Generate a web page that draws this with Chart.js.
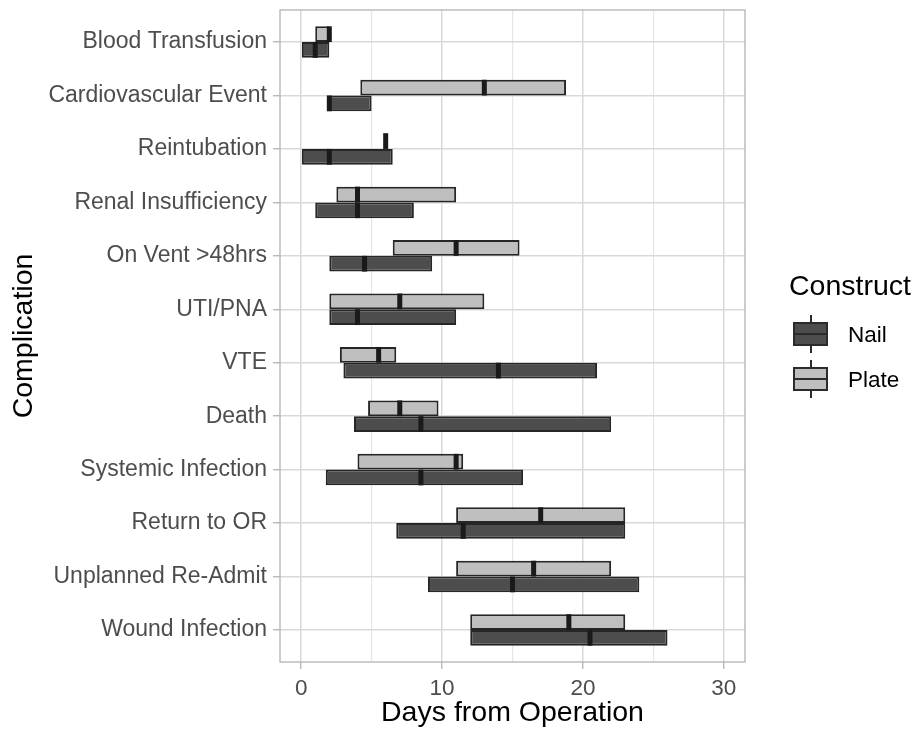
<!DOCTYPE html>
<html>
<head>
<meta charset="utf-8">
<script src="https://cdn.jsdelivr.net/npm/chart.js@4/dist/chart.umd.min.js"></script>
<style>
  body { margin: 0; background: #fff; }
  #wrap { position: relative; width: 911px; height: 732px; font-family: "Liberation Sans", Arial, sans-serif; }
  #chart { position: absolute; left: 0; top: 0; }
  .legend-title { position: absolute; left: 789px; top: 271px; font-size: 28.5px; line-height: 28px; color: #000; }
  .legend-label { position: absolute; left: 848px; font-size: 22.5px; line-height: 22px; color: #000; }
  .key { position: absolute; left: 793px; width: 35px; height: 38px; }
  .key .whisker { position: absolute; left: 16.5px; top: 0; width: 2px; height: 38px; background: #2b2b2b; }
  .key .box { position: absolute; left: 0; top: 6.5px; width: 35px; height: 24px; box-sizing: border-box; border: 2px solid #2b2b2b; }
  .key .mid { position: absolute; left: 0; top: 17.5px; width: 35px; height: 2px; background: #2b2b2b; }
</style>
</head>
<body>
<div id="wrap">
  <canvas id="chart" width="911" height="732"></canvas>
  <div class="legend-title">Construct</div>
  <div class="key" style="top:315px"><div class="whisker"></div><div class="box" style="background:#4d4d4d"></div><div class="mid"></div></div>
  <div class="legend-label" style="top:324px">Nail</div>
  <div class="key" style="top:360px"><div class="whisker"></div><div class="box" style="background:#bfbfbf"></div><div class="mid"></div></div>
  <div class="legend-label" style="top:369px">Plate</div>
</div>
<script>
const categories = [
  "Blood Transfusion", "Cardiovascular Event", "Reintubation", "Renal Insufficiency",
  "On Vent >48hrs", "UTI/PNA", "VTE", "Death", "Systemic Infection",
  "Return to OR", "Unplanned Re-Admit", "Wound Infection"
];

// days from operation: lower quartile, median, upper quartile
const nailLow = [0, 1.85, 0, 1, 2, 2, 3, 3.75, 1.75, 6.75, 9, 12];
const nailMedian = [1, 2, 2, 4, 4.5, 4, 14, 8.5, 8.5, 11.5, 15, 20.5];
const nailHigh = [2, 5, 6.5, 8, 9.3, 11, 21, 22, 15.75, 23, 24, 26];

const plateLow = [1, 4.2, 6, 2.5, 6.5, 2, 2.75, 4.75, 4, 11, 11, 12];
const plateMedian = [2, 13, 6, 4, 11, 7, 5.5, 7, 11, 17, 16.5, 19];
const plateHigh = [2, 18.8, 6, 11, 15.5, 13, 6.75, 9.75, 11.5, 23, 22, 23];

const xTicks = [0, 10, 20, 30];

const nailFill = "#4d4d4d";
const plateFill = "#bfbfbf";
const outline = "#262626";

function boxes(low, high) {
  return categories.map((_, i) => ({ y: i, x: [low[i], high[i]] }));
}

const medianLines = {
  id: "medianLines",
  afterDatasetsDraw(chart) {
    const { ctx } = chart;
    const xScale = chart.scales.x;
    ctx.save();
    ctx.fillStyle = "#1a1a1a";
    chart.data.datasets.forEach((ds, i) => {
      chart.getDatasetMeta(i).data.forEach((bar, j) => {
        const px = xScale.getPixelForValue(ds.medians[j]);
        ctx.fillRect(px - 2.5, bar.y - bar.height / 2, 5, bar.height);
      });
    });
    ctx.restore();
  }
};

const panelBorder = {
  id: "panelBorder",
  afterDraw(chart) {
    const { ctx, chartArea: a } = chart;
    ctx.save();
    ctx.strokeStyle = "#b3b3b3";
    ctx.lineWidth = 1.3;
    ctx.strokeRect(a.left, a.top, a.right - a.left, a.bottom - a.top);
    ctx.restore();
  }
};

new Chart(document.getElementById("chart"), {
  type: "bar",
  data: {
    datasets: [
      {
        label: "Plate",
        data: boxes(plateLow, plateHigh),
        medians: plateMedian,
        backgroundColor: plateFill,
        borderColor: outline,
        borderWidth: 2,
        borderSkipped: false
      },
      {
        label: "Nail",
        data: boxes(nailLow, nailHigh),
        medians: nailMedian,
        backgroundColor: nailFill,
        borderColor: outline,
        borderWidth: 2,
        borderSkipped: false
      }
    ]
  },
  options: {
    indexAxis: "y",
    responsive: false,
    animation: false,
    devicePixelRatio: 1,
    categoryPercentage: 0.59,
    barPercentage: 1,
    layout: { padding: { left: 0, top: 10, right: 166, bottom: 0 } },
    plugins: { legend: { display: false }, tooltip: { enabled: false } },
    scales: {
      x: {
        type: "linear",
        min: -1.5,
        max: 31.5,
        afterFit: scale => {
          scale.height = 70;
          scale.paddingLeft = 0;
          scale.paddingRight = 0;
        },
        border: { display: false },
        grid: {
          color: ctx => ctx.tick && xTicks.includes(ctx.tick.value) ? "#d9d9d9" : "#e6e6e6",
          lineWidth: ctx => ctx.tick && xTicks.includes(ctx.tick.value) ? 1.5 : 1.2,
          tickLength: 7,
          tickColor: ctx => ctx.tick && xTicks.includes(ctx.tick.value) ? "#b3b3b3" : "rgba(0,0,0,0)",
          tickWidth: 1.3
        },
        ticks: {
          stepSize: 5,
          includeBounds: false,
          autoSkip: false,
          maxRotation: 0,
          padding: 6,
          color: "#4d4d4d",
          font: { size: 22.5 },
          callback: value => xTicks.includes(value) ? String(value) : ""
        },
        title: {
          display: true,
          text: "Days from Operation",
          color: "#000",
          font: { size: 28.5 },
          padding: { top: 0, bottom: 2 }
        }
      },
      y: {
        type: "linear",
        reverse: true,
        offset: false,
        min: -0.6,
        max: 11.6,
        afterFit: scale => {
          scale.width = 280;
          scale.paddingTop = 0;
          scale.paddingBottom = 0;
        },
        border: { display: false },
        grid: {
          offset: false,
          color: "#d9d9d9",
          lineWidth: 1.5,
          tickLength: 7,
          tickColor: "#b3b3b3",
          tickWidth: 1.3
        },
        ticks: {
          stepSize: 1,
          includeBounds: false,
          autoSkip: false,
          padding: 6,
          color: "#4d4d4d",
          font: { size: 23 },
          callback: value => categories[value] ?? ""
        },
        title: {
          display: true,
          text: "Complication",
          color: "#000",
          font: { size: 28.5 },
          padding: { top: 7, bottom: 0 }
        }
      }
    }
  },
  plugins: [medianLines, panelBorder]
});
</script>
</body>
</html>
